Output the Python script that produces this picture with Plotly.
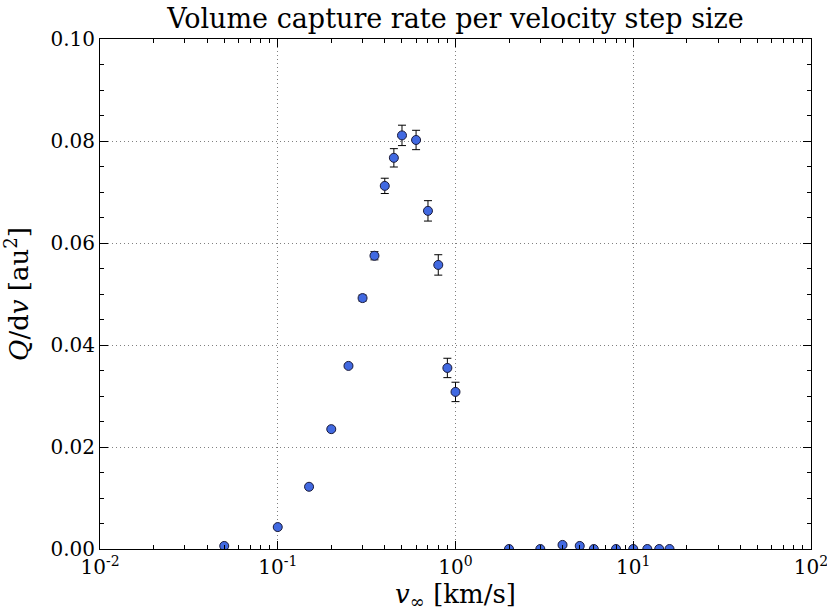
import plotly.graph_objects as go

v_inf = [0.05, 0.1, 0.15, 0.2, 0.25, 0.3, 0.35, 0.4, 0.45, 0.5, 0.6, 0.7, 0.8, 0.9, 1.0,
         2, 3, 4, 5, 6, 8, 10, 12, 14, 16]
q_dv = [0.0006, 0.0043, 0.0122, 0.0235, 0.0359, 0.0492, 0.0575, 0.0712, 0.0767, 0.0811,
        0.0802, 0.0663, 0.0557, 0.0355, 0.0308,
        0.0, 0.0, 0.0008, 0.0006, 0.0, 0.0, 0.0, 0.0, 0.0, 0.0]
q_err = [0.0001, 0.0002, 0.0002, 0.0003, 0.0003, 0.0006, 0.0008, 0.0015, 0.0018, 0.0020,
         0.0019, 0.0020, 0.0020, 0.0019, 0.0019,
         0.0001, 0.0001, 0.0003, 0.0003, 0.0001, 0.0001, 0.0001, 0.0001, 0.0001, 0.0001]

x_tickvals = [0.01, 0.1, 1, 10, 100]
x_ticktext = ["10<sup>-2</sup>", "10<sup>-1</sup>", "10<sup>0</sup>", "10<sup>1</sup>", "10<sup>2</sup>"]
x_minor = [m * 10.0 ** e for e in (-2, -1, 0, 1) for m in range(2, 10)]
y_tickvals = [0.0, 0.02, 0.04, 0.06, 0.08, 0.10]
y_ticktext = ["0.00", "0.02", "0.04", "0.06", "0.08", "0.10"]

serif = "DejaVu Serif"

fig = go.Figure()
fig.add_trace(go.Scatter(
    x=v_inf, y=q_dv, mode="markers",
    marker=dict(color="#4169E1", size=9, line=dict(color="#1a1a3a", width=1)),
    error_y=dict(type="data", array=q_err, visible=True, color="black", thickness=1, width=4),
    showlegend=False, cliponaxis=True,
))

fig.update_layout(
    width=827, height=612,
    margin=dict(l=100, r=16, t=39, b=63),
    paper_bgcolor="white", plot_bgcolor="white",
    font=dict(family=serif, color="black", size=20),
    title=dict(text="Volume capture rate per velocity step size", x=0.5, xanchor="center",
               xref="paper", y=0.985, yref="container", yanchor="top",
               font=dict(family=serif, size=27, color="black")),
)
fig.update_xaxes(
    type="log", range=[-2, 2], automargin=False, ticklabeloverflow="allow",
    tickvals=x_tickvals, ticktext=x_ticktext,
    ticks="inside", ticklen=8, tickwidth=1, tickcolor="black",
    showline=True, linecolor="black", linewidth=1, mirror="allticks",
    showgrid=True, gridcolor="#808080", griddash="1px,3px", gridwidth=1,
    minor=dict(tickvals=x_minor, ticks="inside", ticklen=4, tickcolor="black", showgrid=False),
    zeroline=False,
    title=dict(text="<i>v</i><sub>∞</sub> [km/s]", font=dict(family=serif, size=26), standoff=6),
    tickfont=dict(family=serif, size=20),
)
fig.update_yaxes(
    range=[0, 0.10], automargin=False, ticklabeloverflow="allow",
    tickvals=y_tickvals, ticktext=y_ticktext,
    ticks="inside", ticklen=8, tickwidth=1, tickcolor="black",
    showline=True, linecolor="black", linewidth=1, mirror="allticks",
    showgrid=True, gridcolor="#808080", griddash="1px,3px", gridwidth=1,
    minor=dict(ticks="inside", ticklen=4, tickcolor="black", dtick=0.005, showgrid=False),
    zeroline=False,
    title=dict(text="<i>Q</i>/d<i>v</i> [au<sup>2</sup>]", font=dict(family=serif, size=26), standoff=14),
    tickfont=dict(family=serif, size=20),
)

fig.write_html("out.html")
